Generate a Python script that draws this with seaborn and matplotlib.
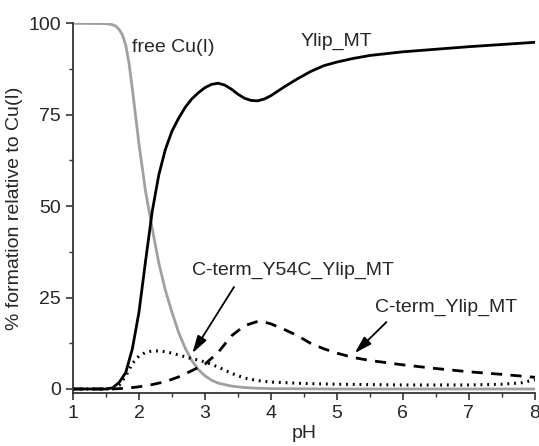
#!/usr/bin/env python3
"""Cu(I) speciation vs pH for Ylip_MT and C-terminal variants."""

import pandas as pd
import matplotlib
matplotlib.use('Agg')
import matplotlib.pyplot as plt
import seaborn as sns
from matplotlib.ticker import MultipleLocator

# --- values ---
ph_free = [1.0, 1.5, 1.6, 1.65, 1.7, 1.75, 1.8, 1.85, 1.9, 2.0, 2.1, 2.2, 2.3, 2.4,
           2.5, 2.6, 2.7, 2.8, 2.9, 3.0, 3.1, 3.2, 3.4, 3.6, 3.8, 4.0, 4.5, 5.0,
           6.0, 7.0, 8.0]
free_cu = [100, 99.9, 99.6, 99.2, 98.3, 96.8, 94, 89, 82, 67, 54, 44, 34.5, 27,
           21, 15.5, 11.2, 7.8, 5.3, 3.6, 2.4, 1.6, 0.8, 0.4, 0.2, 0.1, 0.05, 0,
           0, 0, 0]

ph_mt = [1.0, 1.5, 1.6, 1.7, 1.8, 1.9, 2.0, 2.1, 2.2, 2.3, 2.4, 2.5, 2.6, 2.7,
         2.8, 2.9, 3.0, 3.1, 3.2, 3.3, 3.4, 3.5, 3.6, 3.7, 3.8, 3.9, 4.0, 4.2,
         4.4, 4.6, 4.8, 5.0, 5.25, 5.5, 6.0, 6.5, 7.0, 7.5, 8.0]
ylip_mt = [0, 0, 0.3, 1.8, 4.5, 11, 21, 35, 48.5, 58.5, 65.5, 70.5, 74, 77,
           79.3, 81, 82.4, 83.3, 83.6, 83.1, 82, 80.6, 79.5, 78.9, 78.8, 79.3, 80.2, 82.6,
           84.8, 86.8, 88.4, 89.4, 90.4, 91.2, 92.2, 92.9, 93.6, 94.2, 94.8]

ph_y54c = [1.0, 1.6, 1.7, 1.8, 1.9, 2.0, 2.1, 2.2, 2.3, 2.4, 2.5, 2.6, 2.7, 2.8,
           2.9, 3.0, 3.2, 3.4, 3.6, 3.8, 4.0, 4.5, 5.0, 6.0, 7.0, 7.5, 7.8, 8.0]
cterm_y54c = [0, 0, 1, 3.5, 7, 9, 10, 10.4, 10.4, 10.2, 9.8, 9.3, 8.8, 8.3,
              7.9, 7.4, 6.0, 4.3, 3.0, 2.3, 1.9, 1.5, 1.3, 1.1, 1.1, 1.3, 1.7, 2.5]

ph_cterm = [1.0, 1.6, 1.8, 2.0, 2.2, 2.4, 2.6, 2.8, 3.0, 3.2, 3.4, 3.6, 3.8, 3.9,
            4.0, 4.2, 4.4, 4.6, 4.8, 5.0, 5.25, 5.5, 6.0, 6.5, 7.0, 7.5, 8.0]
cterm_ylip = [0, 0, 0.2, 0.6, 1.2, 2.0, 3.3, 5.0, 6.8, 10, 14.5, 17.3, 18.5, 18.3,
              17.8, 16.3, 14.6, 12.5, 11, 9.8, 8.6, 7.8, 6.6, 5.6, 4.7, 4.0, 3.2]

sns.set_style('ticks')
plt.rcParams['font.family'] = ['Liberation Sans', 'DejaVu Sans']
plt.rcParams['font.size'] = 14

fig = plt.figure(figsize=(5.39, 4.46), dpi=100)
ax = fig.add_axes([0.1354, 0.1188, 0.857, 0.829])

free_df = pd.DataFrame({'pH': ph_free, 'pct': free_cu})
mt_df = pd.DataFrame({'pH': ph_mt, 'pct': ylip_mt})
y54c_df = pd.DataFrame({'pH': ph_y54c, 'pct': cterm_y54c})
cterm_df = pd.DataFrame({'pH': ph_cterm, 'pct': cterm_ylip})

sns.lineplot(data=free_df, x='pH', y='pct', ax=ax, color='#a0a0a0', lw=2.0)
sns.lineplot(data=mt_df, x='pH', y='pct', ax=ax, color='black', lw=2.0)
sns.lineplot(data=y54c_df, x='pH', y='pct', ax=ax, color='black', lw=2.2,
             linestyle=(0, (0.6, 1.6)))
sns.lineplot(data=cterm_df, x='pH', y='pct', ax=ax, color='black', lw=2.0,
             linestyle=(0, (4, 3)))

ax.set_xlim(1, 8)
ax.set_ylim(-1.1, 100)
ax.xaxis.set_major_locator(MultipleLocator(1))
ax.xaxis.set_minor_locator(MultipleLocator(0.5))
ax.yaxis.set_major_locator(MultipleLocator(25))
ax.yaxis.set_minor_locator(MultipleLocator(12.5))
ax.tick_params(which='major', direction='out', length=5, width=1.2, labelsize=14,
               color='#333333')
ax.tick_params(which='minor', direction='out', length=3, width=1.0, color='#333333')
for side in ['left', 'bottom']:
    ax.spines[side].set_linewidth(1.3)
    ax.spines[side].set_color('#333333')
sns.despine(ax=ax)

ax.set_xlabel('pH', fontsize=14, labelpad=2)
ax.set_ylabel('% formation relative to Cu(I)', fontsize=14, labelpad=4)

# curve labels
ax.text(1.9, 93.4, 'free Cu(I)', fontsize=14, va='center', ha='left')
ax.text(4.45, 95, 'Ylip_MT', fontsize=14, va='center', ha='left')
ax.text(2.81, 32.5, 'C-term_Y54C_Ylip_MT', fontsize=14, va='center', ha='left')
ax.text(5.57, 22.4, 'C-term_Ylip_MT', fontsize=14, va='center', ha='left')

arrow = dict(arrowstyle='-|>,head_length=0.75,head_width=0.22', color='black',
             lw=1.3, shrinkA=0, shrinkB=0)
ax.annotate('', xy=(2.81, 9.8), xytext=(3.44, 27.9), arrowprops=arrow)
ax.annotate('', xy=(5.27, 9.8), xytext=(5.75, 18.3), arrowprops=arrow)

plt.savefig('out.png', dpi=100)
